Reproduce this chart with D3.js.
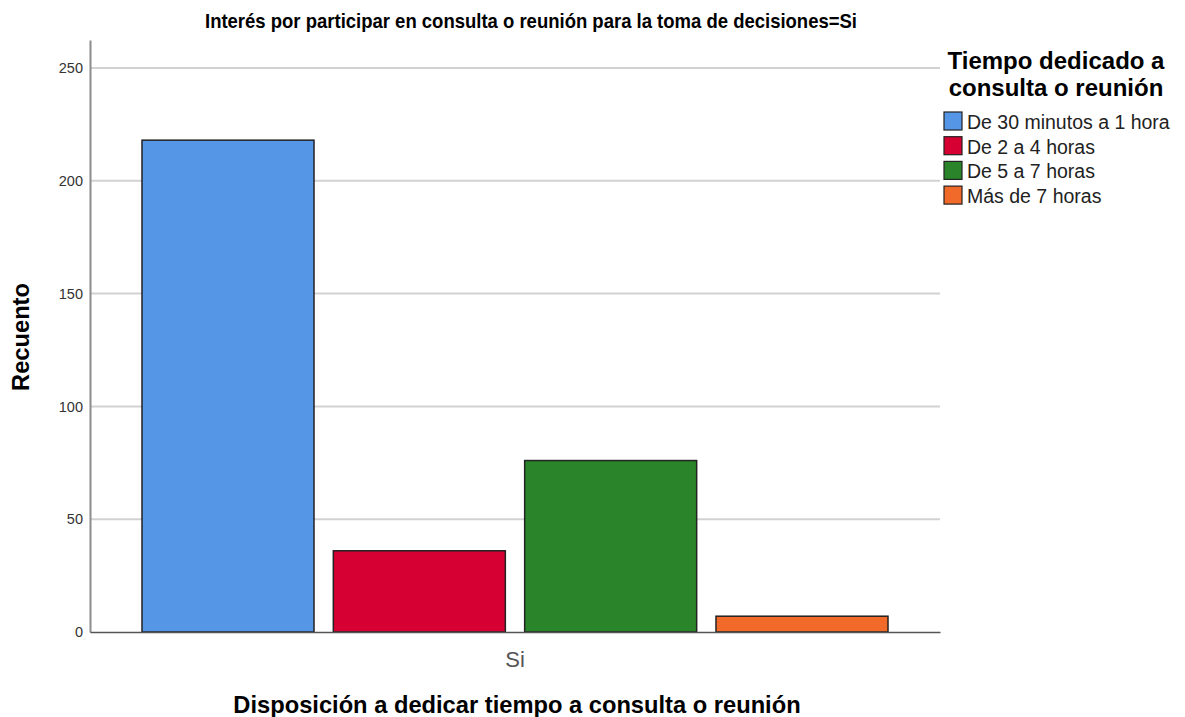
<!DOCTYPE html>
<html><head><meta charset="utf-8">
<script src="https://cdn.jsdelivr.net/npm/d3@7"></script>
<style>body{margin:0;background:#fff}svg{display:block}text{font-family:"Liberation Sans",Arial,sans-serif}</style>
</head><body><svg id="c" width="1185" height="717"></svg>
<script>
const categories = ["Si"];
const seriesNames = ["De 30 minutos a 1 hora","De 2 a 4 horas","De 5 a 7 horas","Más de 7 horas"];
const seriesValues = [218, 36, 76, 7];
const seriesColors = ["#5596e6","#d60032","#2a852a","#f26a2a"];
const yTicks = [0,50,100,150,200,250];
const title = "Interés por participar en consulta o reunión para la toma de decisiones=Si";
const yTitle = "Recuento";
const xTitle = "Disposición a dedicar tiempo a consulta o reunión";
const legendTitle = ["Tiempo dedicado a","consulta o reunión"];

const svg = d3.select("#c");
const m = {l:90, r:940, t:40, b:632};
const y = d3.scaleLinear().domain([0,262.4]).range([m.b,m.t]);
const x0 = d3.scaleBand().domain(categories).range([m.l,m.r]).paddingInner(0).paddingOuter(0.0697);
const x1 = d3.scaleBand().domain(seriesNames).range([0,x0.bandwidth()]).paddingInner(0.101);

// gridlines
svg.append("g").selectAll("line").data(yTicks.filter(d=>d>0)).join("line")
  .attr("x1",m.l).attr("x2",m.r).attr("y1",d=>y(d)).attr("y2",d=>y(d))
  .attr("stroke","#d2d2d2").attr("stroke-width",2);

// y axis
const ya = svg.append("g").attr("transform",`translate(${m.l},0)`).call(d3.axisLeft(y).tickValues(yTicks).tickSize(0).tickPadding(7));
ya.select(".domain").attr("stroke","#8c8c8c").attr("stroke-width",2);
ya.selectAll("text").attr("font-size",14.5).attr("fill","#333");

// bars
const rows = seriesNames.map((s,i)=>({cat:categories[0],s,v:seriesValues[i],c:seriesColors[i]}));
svg.append("g").selectAll("rect").data(rows).join("rect")
  .attr("x",d=>x0(d.cat)+x1(d.s)).attr("width",x1.bandwidth())
  .attr("y",d=>y(d.v)).attr("height",d=>y(0)-y(d.v))
  .attr("fill",d=>d.c).attr("stroke","#222").attr("stroke-width",1.5);

// x axis
const xa = svg.append("g").attr("transform",`translate(0,${m.b})`).call(d3.axisBottom(x0).tickSize(0).tickPadding(19));
xa.select(".domain").attr("stroke","#555").attr("stroke-width",1.5);
xa.selectAll("text").attr("font-size",22).attr("fill","#555");

// titles
svg.append("text").attr("x",531).attr("y",28).attr("text-anchor","middle").attr("font-size",21).attr("font-weight","bold")
  .attr("textLength",652).attr("lengthAdjust","spacingAndGlyphs").text(title);
svg.append("text").attr("transform","translate(29,337) rotate(-90)").attr("text-anchor","middle").attr("font-size",23.7).attr("font-weight","bold").text(yTitle);
svg.append("text").attr("x",517).attr("y",713).attr("text-anchor","middle").attr("font-size",23.7).attr("font-weight","bold").text(xTitle);

// legend
const lg = svg.append("g");
lg.selectAll("text.lt").data(legendTitle).join("text").attr("class","lt")
  .attr("x",1056).attr("y",(d,i)=>69+i*27).attr("text-anchor","middle").attr("font-size",24).attr("font-weight","bold").text(d=>d);
const items = lg.selectAll("g.it").data(seriesNames).join("g").attr("class","it")
  .attr("transform",(d,i)=>`translate(944,${112+i*24.7})`);
items.append("rect").attr("width",18).attr("height",18).attr("fill",(d,i)=>seriesColors[i]).attr("stroke","#222").attr("stroke-width",1.2);
items.append("text").attr("x",23).attr("y",17).attr("font-size",19.5).attr("fill","#222").text(d=>d);
</script></body></html>
